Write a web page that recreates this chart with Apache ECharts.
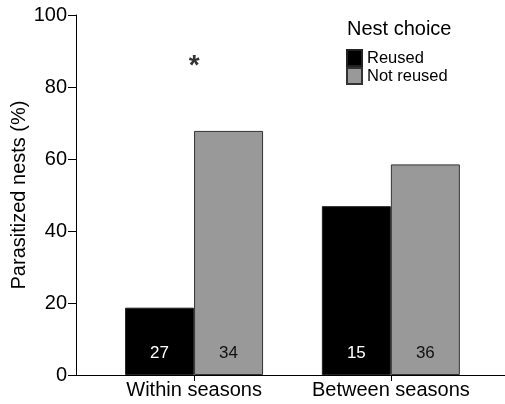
<!DOCTYPE html>
<html><head><meta charset="utf-8">
<script src="https://cdn.jsdelivr.net/npm/echarts@6/dist/echarts.min.js"></script>
<style>html,body{margin:0;padding:0;background:#fff}#c{width:505px;height:404px}</style>
</head><body><div id="c"></div>
<script>
var categories = ['Within seasons', 'Between seasons'];
var catPos = [1, 2];
var reused = [18.7, 46.9];
var notReused = [67.8, 58.5];
var reusedN = [27, 15];
var notReusedN = [34, 36];
var yTicks = [0, 20, 40, 60, 80, 100];
var sigMark = [{pos: 1, value: 85.8, text: '*'}];

var FONT = 'Liberation Sans, Arial, sans-serif';
var chart = echarts.init(document.getElementById('c'));
chart.setOption({
  animation: false,
  title: {text: 'Nest choice', left: 347, top: 19, padding: 0,
    textStyle: {fontFamily: FONT, fontSize: 20, fontWeight: 'normal', color: '#000'}},
  legend: {orient: 'vertical', left: 346, top: 49, padding: 0, itemGap: 0,
    itemWidth: 15, itemHeight: 16, icon: 'rect',
    textStyle: {fontFamily: FONT, fontSize: 16.5, color: '#000', lineHeight: 16, padding: [0, 0, 0, 0]},
    data: ['Reused', 'Not reused']},
  grid: {left: 76, right: 0, top: 15, bottom: 29, containLabel: false, outerBoundsMode: 'none'},
  xAxis: {type: 'value', min: 0.4, max: 2.58,
    axisLine: {lineStyle: {color: '#000', width: 1}},
    axisTick: {customValues: catPos, length: 6, lineStyle: {color: '#000'}},
    axisLabel: {customValues: catPos, margin: 5, fontFamily: FONT, fontSize: 20, color: '#000',
      formatter: function (v) { var i = catPos.indexOf(v); return i >= 0 ? categories[i] : ''; }},
    splitLine: {show: false}},
  yAxis: {type: 'value', min: 0, max: 100, interval: 20,
    name: 'Parasitized nests (%)', nameLocation: 'middle', nameGap: 47, nameMoveOverlap: false,
    nameTextStyle: {fontFamily: FONT, fontSize: 20, color: '#000'},
    axisLine: {show: true, lineStyle: {color: '#000', width: 1}},
    axisTick: {show: true, length: 8, lineStyle: {color: '#000'}},
    axisLabel: {margin: 9, fontFamily: FONT, fontSize: 20, color: '#000',
      formatter: function (v) { return yTicks.indexOf(v) >= 0 ? String(v) : ''; }},
    splitLine: {show: false}},
  series: [
    {name: 'Reused', type: 'bar', barWidth: 69, barGap: '0%',
      data: catPos.map(function (p, i) { return [p, reused[i]]; }),
      itemStyle: {color: '#000', borderColor: '#222', borderWidth: 1},
      label: {show: true, position: 'insideBottom', distance: 13, fontFamily: FONT, fontSize: 17, color: '#fff',
        formatter: function (p) { return reusedN[p.dataIndex]; }}},
    {name: 'Not reused', type: 'bar', barWidth: 69, barGap: '0%',
      data: catPos.map(function (p, i) { return [p, notReused[i]]; }),
      itemStyle: {color: '#999', borderColor: '#333', borderWidth: 1},
      label: {show: true, position: 'insideBottom', distance: 13, fontFamily: FONT, fontSize: 17, color: '#111',
        formatter: function (p) { return notReusedN[p.dataIndex]; }}},
    {name: 'sig', type: 'scatter', symbolSize: 1, itemStyle: {color: 'rgba(0,0,0,0)'},
      data: sigMark.map(function (s) { return [s.pos, s.value]; }),
      label: {show: true, position: 'inside', fontFamily: FONT, fontSize: 28, fontWeight: 'bold', color: '#000',
        formatter: function (p) { return sigMark[p.dataIndex].text; }}}
  ]
});
</script></body></html>
